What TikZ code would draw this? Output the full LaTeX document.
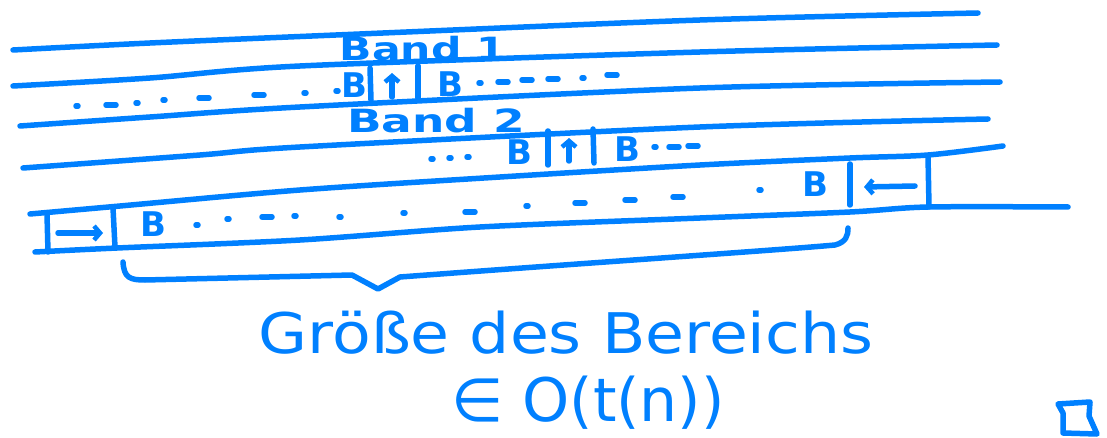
\documentclass[tikz,border=0pt]{standalone}
\usepackage{fontspec}
\setmainfont{DejaVu Sans}
\usetikzlibrary{arrows.meta}
\definecolor{pencol}{RGB}{0,128,255}
\tikzset{
  pen/.style={draw=pencol, line width=5.5pt, line cap=round, line join=round},
  ink/.style={text=pencol, inner sep=0pt},
  arr/.style={pen, -{Straight Barb[length=6pt,width=14pt,line width=4.5pt]}},
  bigB/.style={ink, font=\fontsize{34}{34}\selectfont\bfseries},
  bandtxt/.style={ink, font=\fontsize{32}{32}\selectfont\bfseries},
}
\begin{document}
\begin{tikzpicture}[x=1pt,y=-1pt]
\useasboundingbox (0,0) rectangle (1107,438);
% band lines
\draw[pen] plot[smooth] coordinates {(13,50) (150,43) (336,35) (700,20) (978,13)};
\draw[pen] plot[smooth] coordinates {(13,86) (150,78) (300,66) (700,52) (997,45)};
\draw[pen] plot[smooth] coordinates {(20,126) (150,117) (300,107) (700,88) (1000,82)};
\draw[pen] plot[smooth] coordinates {(23,168) (200,155) (300,147) (700,127) (988,119)};
\draw[pen] plot[smooth] coordinates {(30,214) (120,206) (300,190) (500,177) (700,165) (850,158) (928,155) (1003,146)};
\draw[pen] plot[smooth] coordinates {(35,252) (117,248) (300,240) (480,227) (700,218) (850,212) (928,207) (1068,207)};
% band labels
\node[bandtxt] (band1) at (423,49) {\scalebox{1.33}[1]{Band 1}};
\node[bandtxt] (band2) at (436,121) {\scalebox{1.42}[1]{Band 2}};
% row 1
\draw[pen] (370,68) -- (371,100);
\draw[pen] (418,66) -- (418,98);
\coordinate (u1s) at (392,97); \coordinate (u1e) at (392,73);
\draw[arr] (u1s) -- (u1e);
\node[bigB] (b1) at (354,85) {B};
\node[bigB] (b2) at (450,84) {B};
\foreach \x/\y in {77/106,137/103,164/100,305/93,337/91,480/83,583/78}
  \draw[pen] ({\x-1},\y) -- ({\x+1},\y);
\foreach \x/\y in {111/105,204/98,259/95,503/82,527/80,553/79,612/75}
  \draw[pen] ({\x-5},\y) -- ({\x+5},\y);
% row 2
\draw[pen] (548,131) -- (548,165);
\draw[pen] (593,129) -- (594,163);
\coordinate (u2s) at (569,161); \coordinate (u2e) at (569,138);
\draw[arr] (u2s) -- (u2e);
\node[bigB] (b3) at (519,152) {B};
\node[bigB] (b4) at (627,149) {B};
\foreach \x/\y in {432/159,450/158,468/157,655/147}
  \draw[pen] ({\x-1},\y) -- ({\x+1},\y);
\foreach \x/\y in {674/147,693/146}
  \draw[pen] ({\x-5},\y) -- ({\x+5},\y);
% bottom row
\draw[pen] (47,214) -- (48,252);
\draw[pen] (113,208) -- (115,247);
\draw[pen] (850,164) -- (850,205);
\draw[pen] (928,156) -- (929,207);
\coordinate (ra) at (58,233); \coordinate (rb) at (103,233);
\draw[arr] (ra) -- (rb);
\coordinate (la) at (915,186); \coordinate (lb) at (864,187);
\draw[arr] (la) -- (lb);
\node[bigB] (b5) at (153,224) {B};
\node[bigB] (b6) at (815,184) {B};
\foreach \x/\y in {197/225,228/219,295/216,340/217,404/213,527/206,760/190}
  \draw[pen] ({\x-1},\y) -- ({\x+1},\y);
\foreach \x/\y in {267/217,470/212,580/203,630/200,678/197}
  \draw[pen] ({\x-5},\y) -- ({\x+5},\y);
% brace
\draw[pen] (123,262) .. controls (124,278) and (130,280) .. (145,280)
  -- (352,275) -- (378,289) -- (400,277)
  .. controls (600,262) and (780,250) .. (835,245)
  .. controls (846,242) and (848,236) .. (848,228);
% caption
\node[ink, font=\fontsize{56}{56}\selectfont, anchor=base] (size) at (566,353) {\scalebox{1.13}[1]{Größe des Bereichs}};
\node[ink, font=\fontsize{60}{60}\selectfont, anchor=base] (order) at (588,421) {∈ O(t(n))};
% qed box
\draw[pen] (1058,404) -- (1063,413) -- (1063,433) -- (1097,434) -- (1089,416) -- (1090,402) -- cycle;
\end{tikzpicture}
\end{document}
